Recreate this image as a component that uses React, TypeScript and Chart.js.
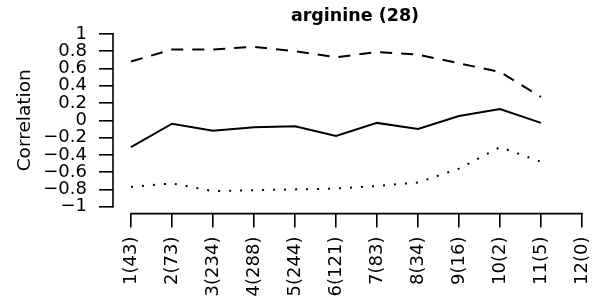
import React, { useEffect, useRef } from "react";
import { Chart, registerables } from "chart.js";

Chart.register(...registerables);

const titleText = "arginine (28)";
const yAxisLabel = "Correlation";
const categories = ["1(43)", "2(73)", "3(234)", "4(288)", "5(244)", "6(121)", "7(83)", "8(34)", "9(16)", "10(2)", "11(5)", "12(0)"];
const xPositions = [1, 2, 3, 4, 5, 6, 7, 8, 9, 10, 11, 12];
const meanCorr = [-0.31, -0.04, -0.12, -0.08, -0.07, -0.18, -0.03, -0.1, 0.05, 0.13, -0.03, null];
const upperCorr = [0.68, 0.82, 0.82, 0.85, 0.8, 0.73, 0.79, 0.76, 0.66, 0.56, 0.27, null];
const lowerCorr = [-0.77, -0.73, -0.82, -0.81, -0.8, -0.79, -0.76, -0.72, -0.56, -0.31, -0.48, null];
const yTickValues = [-1, -0.8, -0.6, -0.4, -0.2, 0, 0.2, 0.4, 0.6, 0.8, 1];

const FONT = "DejaVu Sans";

function fmt(v: number): string {
  const r = Math.round(v * 10) / 10;
  if (r === 0) return "0";
  return String(r).replace("-", "\u2212");
}

const axisLinesPlugin = {
  id: "rAxisLines",
  afterDraw(chart: any) {
    const { ctx, chartArea, scales } = chart;
    const xs = scales.x;
    const ys = scales.y;
    ctx.save();
    ctx.strokeStyle = "#000";
    ctx.lineWidth = 1.6;
    ctx.lineCap = "square";
    ctx.beginPath();
    ctx.moveTo(chartArea.left, ys.getPixelForValue(yTickValues[0]));
    ctx.lineTo(chartArea.left, ys.getPixelForValue(yTickValues[yTickValues.length - 1]));
    ctx.moveTo(xs.getPixelForValue(xPositions[0]), chartArea.bottom);
    ctx.lineTo(xs.getPixelForValue(xPositions[xPositions.length - 1]), chartArea.bottom);
    ctx.stroke();
    ctx.restore();
  },
};

function toPoints(values: (number | null)[]) {
  return values.map((v, i) => ({ x: xPositions[i], y: v }));
}

export default function App() {
  const ref = useRef<HTMLCanvasElement | null>(null);
  useEffect(() => {
    document.body.style.margin = "0";
    const canvas = ref.current;
    if (!canvas) return;
    const gridCommon = {
      display: true,
      drawOnChartArea: false,
      drawTicks: true,
      tickLength: 14,
      tickWidth: 1.6,
      tickColor: "#000",
      color: "#000",
      lineWidth: 1.6,
    };
    const chart = new Chart(canvas, {
      type: "line",
      data: {
        datasets: [
          {
            label: "mean",
            data: toPoints(meanCorr),
            borderColor: "#000",
            borderWidth: 2,
            pointRadius: 0,
            tension: 0,
            fill: false,
          },
          {
            label: "upper",
            data: toPoints(upperCorr),
            borderColor: "#000",
            borderWidth: 2,
            borderDash: [12, 9],
            pointRadius: 0,
            tension: 0,
            fill: false,
          },
          {
            label: "lower",
            data: toPoints(lowerCorr),
            borderColor: "#000",
            borderWidth: 2,
            borderDash: [2, 9],
            pointRadius: 0,
            tension: 0,
            fill: false,
          },
        ],
      },
      options: {
        animation: false,
        responsive: false,
        devicePixelRatio: 1,
        layout: { padding: 0 },
        plugins: {
          legend: { display: false },
          tooltip: { enabled: false },
          title: {
            display: true,
            text: titleText,
            color: "#000",
            fullSize: false,
            font: { family: FONT, size: 17.5, weight: "bold" },
            padding: { top: 6, bottom: 0 },
          },
        },
        scales: {
          x: {
            type: "linear",
            min: 0.561,
            max: 12.366,
            border: { display: false },
            grid: gridCommon,
            afterBuildTicks: (scale: any) => {
              scale.ticks = xPositions.map((v) => ({ value: v }));
            },
            afterFit: (scale: any) => {
              scale.height = 91.4;
              scale.paddingLeft = 0;
              scale.paddingRight = 0;
            },
            ticks: {
              autoSkip: false,
              minRotation: 90,
              maxRotation: 90,
              padding: 9,
              color: "#000",
              font: { family: FONT, size: 18 },
              callback: (value: any) => categories[xPositions.indexOf(Number(value))] ?? "",
            },
          },
          y: {
            type: "linear",
            min: -1.08,
            max: 1.08,
            border: { display: false },
            grid: gridCommon,
            afterBuildTicks: (scale: any) => {
              scale.ticks = yTickValues.map((v) => ({ value: v }));
            },
            afterFit: (scale: any) => {
              scale.width = 113;
              scale.paddingTop = 0;
              scale.paddingBottom = 0;
            },
            title: {
              display: true,
              text: yAxisLabel,
              color: "#000",
              font: { family: FONT, size: 18.5 },
              padding: { top: 14, bottom: 0 },
            },
            ticks: {
              autoSkip: false,
              padding: 12,
              color: "#000",
              font: { family: FONT, size: 18 },
              callback: (value: any) => fmt(Number(value)),
            },
          },
        },
      },
      plugins: [axisLinesPlugin],
    });
    return () => chart.destroy();
  }, []);
  return <canvas ref={ref} width={597} height={305} style={{ display: "block" }} />;
}
